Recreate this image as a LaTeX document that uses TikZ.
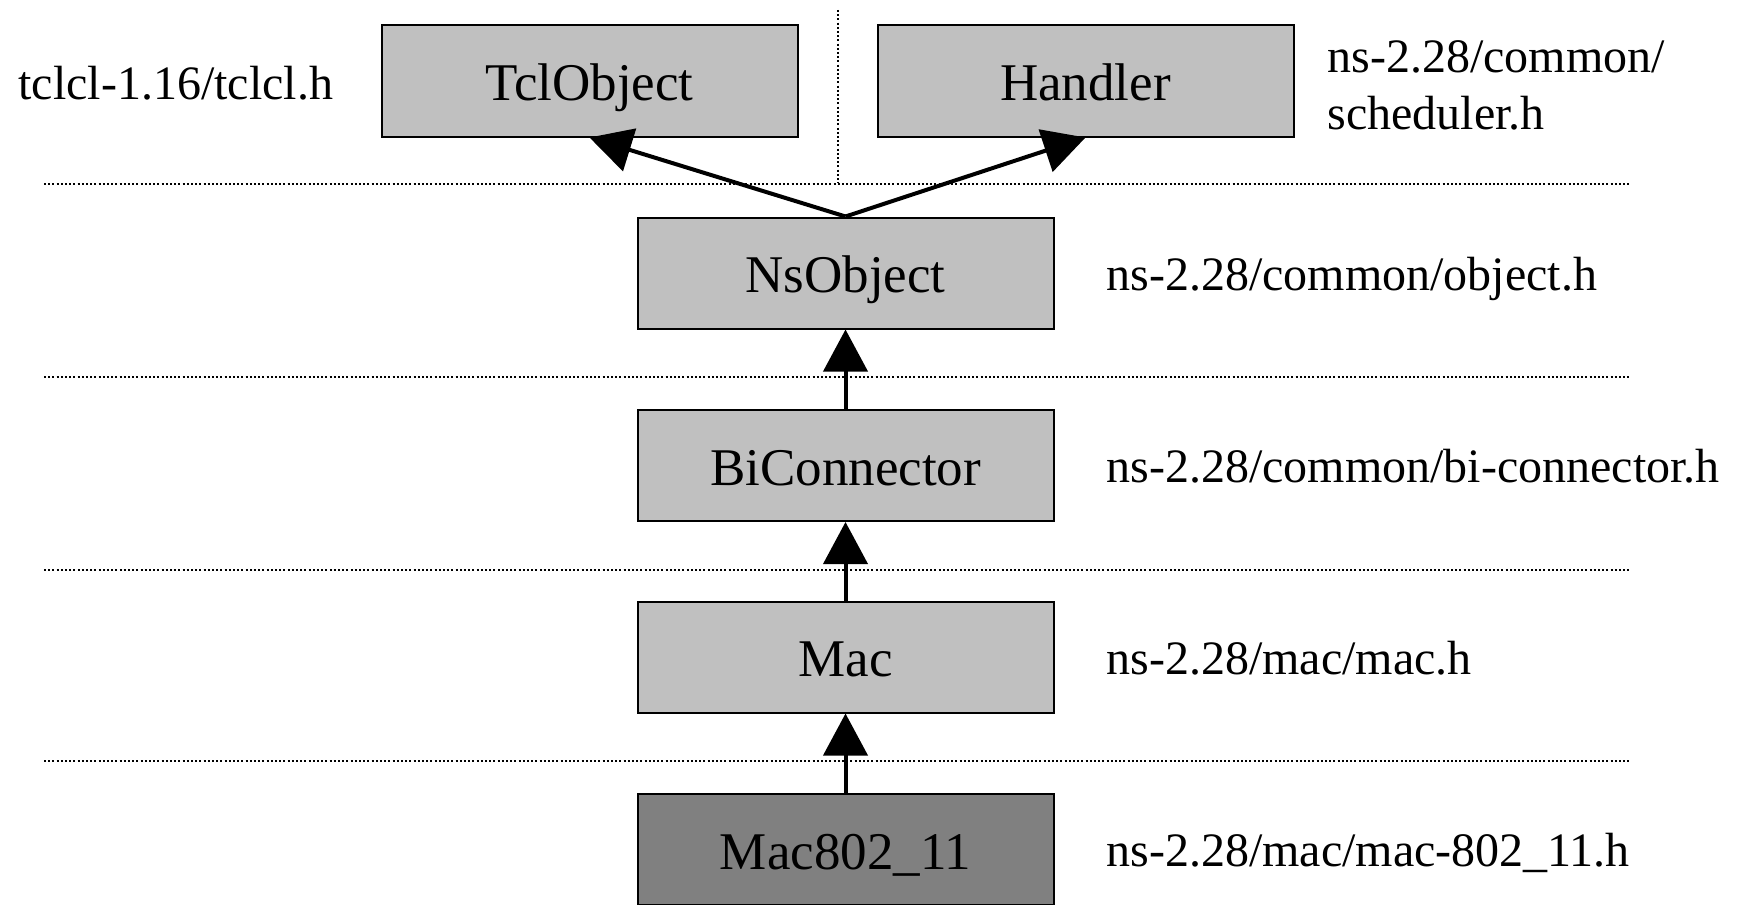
\documentclass[tikz,border=0pt]{standalone}
\usepackage{fontspec}
\setmainfont{Liberation Serif}
\usetikzlibrary{arrows.meta}
\definecolor{boxgray}{HTML}{C0C0C0}
\definecolor{leafgray}{HTML}{808080}
\begin{document}
\begin{tikzpicture}[x=0.5pt,y=-0.5pt,
  cls/.style={draw=black, line width=1pt, fill=boxgray,
    minimum width=208pt, minimum height=55.5pt, inner sep=0pt,
    font=\fontsize{26.5}{30}\selectfont, text height=19.5pt, text depth=0pt},
  leaf/.style={cls, fill=leafgray},
  srcfile/.style={anchor=base west, inner sep=0pt,
    font=\fontsize{24}{29}\selectfont},
  layer/.style={line width=1pt, dash pattern=on 1pt off 1.1pt},
  inh/.style={line width=2pt, -{Triangle[length=21pt,width=22pt]}}
]
\useasboundingbox (0,0) rectangle (1738,904);

% layer separators
\draw[layer] (44,184) -- (1629,184);
\draw[layer] (44,377) -- (1629,377);
\draw[layer] (44,570) -- (1629,570);
\draw[layer] (44,761) -- (1629,761);
\draw[layer] (838,10) -- (838,183);

% classes
\node[cls] (tcl) at (589.5,81) {TclObject};
\node[cls] (hnd) at (1085.5,81) {Handler};
\node[cls] (ns) at (845.5,273) {NsObject};
\node[cls] (bic) at (845.5,465.5) {BiConnector};
\node[cls] (mac) at (845.5,657) {Mac};
\node[leaf] (m80211) at (845.5,849.5) {Mac802\_11};

% inheritance arrows
\draw[inh] (ns.north) -- (tcl.south);
\draw[inh] (ns.north) -- (hnd.south);
\draw[inh] (bic.north) -- (ns.south);
\draw[inh] (mac.north) -- (bic.south);
\draw[inh] (m80211.north) -- (mac.south);

% header files
\node[srcfile] (ftcl) at (18,99) {tclcl-1.16/tclcl.h};
\node[srcfile] (fsch1) at (1327,73) {ns-2.28/common/};
\node[srcfile] (fsch2) at (1327,129) {scheduler.h};
\node[srcfile] (fns) at (1106,290) {ns-2.28/common/object.h};
\node[srcfile] (fbic) at (1106,482.5) {ns-2.28/common/bi-connector.h};
\node[srcfile] (fmac) at (1106,674) {ns-2.28/mac/mac.h};
\node[srcfile] (f80211) at (1106,866.5) {ns-2.28/mac/mac-802\_11.h};
\end{tikzpicture}
\end{document}
